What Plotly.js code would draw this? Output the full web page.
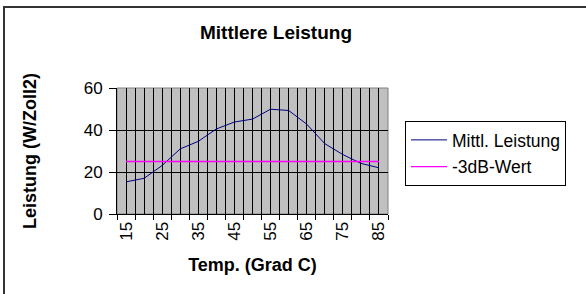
<!DOCTYPE html>
<html>
<head>
<meta charset="utf-8">
<script src="https://cdn.plot.ly/plotly-3.0.1.min.js"></script>
<style>
  html, body { margin: 0; padding: 0; background: #fff; }
  #wrap { position: relative; width: 586px; height: 294px; overflow: hidden; }
  #chart { position: absolute; left: 0; top: 0; width: 586px; height: 294px; }
  #frame { position: absolute; left: 3px; top: 6px; width: 700px; height: 400px;
           border-left: 2px solid #333; border-top: 2px solid #333; pointer-events: none; }
</style>
</head>
<body>
<div id="wrap"><div id="chart"></div><div id="frame"></div></div>
<script>
// Temperatures (categories)
const temps = [15, 20, 25, 30, 35, 40, 45, 50, 55, 60, 65, 70, 75, 80, 85];
// Mittl. Leistung (W/Zoll2)
const leistung = [15.3, 17.0, 23.1, 31.0, 34.6, 40.5, 43.8, 45.2, 49.9, 49.3, 42.8, 33.5, 28.3, 24.1, 22.0];
// -3dB-Wert
const dbWert = [25, 25, 25, 25, 25, 25, 25, 25, 25, 25, 25, 25, 25, 25, 25];
// Tick labels shown on the x axis
const xTickVals = [15, 25, 35, 45, 55, 65, 75, 85];
const xTickText = ['15', '25', '35', '45', '55', '65', '75', '85'];
const yTickVals = [0, 20, 40, 60];

const FONT = 'Liberation Sans, Arial, sans-serif';
const xRange = [12.5, 87.5];

const traces = [
  {
    x: temps, y: leistung, type: 'scatter', mode: 'lines',
    name: 'Mittl. Leistung', legendgroup: 'a',
    line: { color: '#000080', width: 1 }
  },
  {
    x: temps, y: dbWert, type: 'scatter', mode: 'lines',
    name: '-3dB-Wert', legendgroup: 'b', xaxis: 'x2',
    line: { color: '#ff00ff', width: 1.3 }
  }
];

const layout = {
  width: 586, height: 294,
  margin: { l: 117, r: 198, t: 88, b: 80 },
  paper_bgcolor: 'rgba(0,0,0,0)',
  plot_bgcolor: '#c0c0c0',
  font: { family: FONT, color: '#000' },
  showlegend: true,
  title: {
    text: '<b>Mittlere Leistung</b>',
    font: { family: FONT, size: 19, color: '#000' },
    xref: 'container', x: 0.471, xanchor: 'center',
    yref: 'container', y: 1 - 32 / 294, yanchor: 'middle'
  },
  xaxis: {
    range: xRange,
    tickmode: 'array', tickvals: xTickVals, ticktext: xTickText,
    tickangle: -90, ticks: '', tickfont: { size: 17 },
    showgrid: true, gridcolor: '#000', gridwidth: 1,
    minor: { tick0: 12.5, dtick: 2.5, showgrid: true, gridcolor: '#000', gridwidth: 1, ticks: '' },
    showline: true, linecolor: '#000', linewidth: 1,
    zeroline: false,
    title: { text: '<b>Temp. (Grad C)</b>', font: { size: 18 }, standoff: 18 }
  },
  xaxis2: {
    overlaying: 'x', anchor: 'y', side: 'bottom',
    range: xRange,
    tickmode: 'linear', tick0: 12.5, dtick: 5,
    ticks: 'outside', ticklen: 5, tickcolor: '#000', tickwidth: 1,
    showticklabels: false, showgrid: false, zeroline: false, showline: false
  },
  yaxis: {
    range: [0, 60],
    tickmode: 'array', tickvals: yTickVals,
    ticks: 'outside', ticklen: 7, tickcolor: '#000',
    ticklabelstandoff: 3,
    tickfont: { size: 17 },
    showgrid: true, gridcolor: '#000', gridwidth: 1,
    showline: true, linecolor: '#000', linewidth: 1,
    zeroline: false,
    title: { text: '<b>Leistung (W/Zoll2)</b>', font: { size: 18 }, standoff: 42 }
  },
  legend: {
    x: (405 - 117) / 271, xanchor: 'left',
    y: (214 - 121) / 126, yanchor: 'top',
    bgcolor: '#fff', bordercolor: '#000', borderwidth: 1,
    font: { family: FONT, size: 17.5, color: '#000' },
    traceorder: 'grouped', tracegroupgap: 1,
    itemwidth: 36, entrywidth: 184, entrywidthmode: 'pixels'
  },
  shapes: [
    { type: 'rect', xref: 'paper', yref: 'paper', x0: 0, x1: 1, y0: 0, y1: 1,
      line: { color: '#808080', width: 1 }, layer: 'below' }
  ]
};

Plotly.newPlot('chart', traces, layout, { staticPlot: true, displayModeBar: false });
</script>
</body>
</html>
